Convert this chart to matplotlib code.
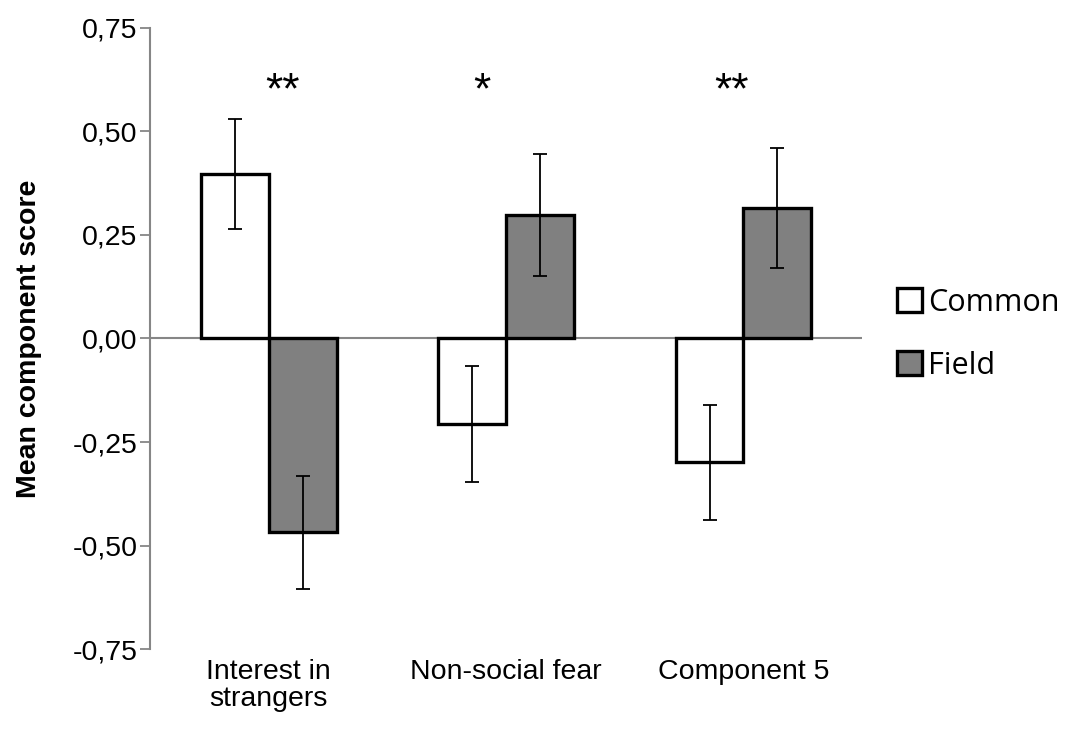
import numpy as np
import matplotlib.pyplot as plt

# --- data ---
categories = ['Interest in\nstrangers', 'Non-social fear', 'Component 5']
common_mean = [0.397, -0.206, -0.299]
common_err = [0.132, 0.140, 0.139]
field_mean = [-0.468, 0.298, 0.314]
field_err = [0.137, 0.147, 0.145]
sig_labels = ['**', '*', '**']
sig_x = [0.06, 0.90, 1.95]
sig_y = [0.595, 0.595, 0.595]
yticks = [-0.75, -0.5, -0.25, 0.0, 0.25, 0.5, 0.75]

axis_gray = '#868686'
plt.rcParams['font.family'] = ['Liberation Sans', 'DejaVu Sans']

fig = plt.figure(figsize=(10.71, 7.31), dpi=100)
ax = fig.add_axes([0.140, 0.112, 0.665, 0.850])

x = np.arange(len(categories))
w = 0.286
err_kw = dict(ecolor='black', elinewidth=1.3, capsize=5, capthick=1.3)

ax.axhline(0, color=axis_gray, lw=1.5, zorder=1)
ax.bar(x - w / 2, common_mean, w, yerr=common_err, color='white',
       edgecolor='black', linewidth=2.4, error_kw=err_kw, label='Common', zorder=2)
ax.bar(x + w / 2, field_mean, w, yerr=field_err, color='#808080',
       edgecolor='black', linewidth=2.4, error_kw=err_kw, label='Field', zorder=2)

for sx, sy, s in zip(sig_x, sig_y, sig_labels):
    ax.text(sx, sy, s, ha='center', va='center', fontsize=32)

ax.set_xlim(-0.5, 2.5)
ax.set_ylim(-0.75, 0.75)
ax.set_yticks(yticks)
ax.set_yticklabels([f'{v:.2f}'.replace('.', ',') for v in yticks], fontsize=20.5)
ax.tick_params(axis='y', direction='out', length=7, width=1.3, color=axis_gray, pad=2)

ax.set_xticks([])
for xi, lab in zip(x, categories):
    ax.text(xi, -0.775, lab, ha='center', va='top', fontsize=20.5, linespacing=1.05)

for s in ['top', 'right', 'bottom']:
    ax.spines[s].set_visible(False)
ax.spines['left'].set_color(axis_gray)
ax.spines['left'].set_linewidth(1.5)

ax.set_ylabel('Mean component score', fontsize=20.5, fontweight='bold', labelpad=22)

leg = ax.legend(loc='center left', bbox_to_anchor=(1.011, 0.507), frameon=False,
                prop={'family': 'Open Sans', 'size': 22}, handlelength=0.8,
                handleheight=0.8, handletextpad=0.2, labelspacing=1.08)

fig.savefig('out.png', dpi=100)
